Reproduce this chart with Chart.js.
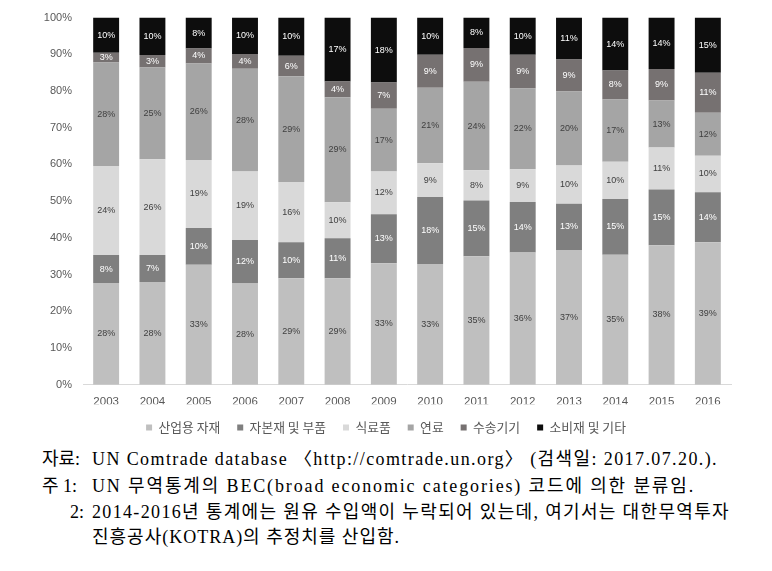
<!DOCTYPE html>
<html>
<head>
<meta charset="utf-8">
<script src="https://cdn.jsdelivr.net/npm/chart.js@4.4.0/dist/chart.umd.min.js"></script>
<style>
  body { margin: 0; background: #fff; }
  #wrap { position: absolute; left: 0; top: 0; width: 772px; height: 444px; }
  .note {
    position: absolute;
    font-family: "Liberation Serif", "Noto Sans CJK KR", serif;
    font-size: 18px; line-height: 25px; color: #000;
    white-space: nowrap;
  }
</style>
</head>
<body>
<div id="wrap"><canvas id="chart"></canvas></div>
<div class="note" style="left:42px; top:447px">자료:</div>
<div class="note body" style="left:92px; top:447px" data-right="718">UN Comtrade database 〈http://comtrade.un.org〉 (검색일: 2017.07.20.).</div>
<div class="note" style="left:42px; top:474px">주 1:</div>
<div class="note body" style="left:92px; top:474px" data-right="695">UN 무역통계의 BEC(broad economic categories) 코드에 의한 분류임.</div>
<div class="note" style="left:70px; top:500px">2:</div>
<div class="note body" style="left:92px; top:500px" data-right="730">2014-2016년 통계에는 원유 수입액이 누락되어 있는데, 여기서는 대한무역투자</div>
<div class="note body" style="left:92px; top:525px" data-right="400">진흥공사(KOTRA)의 추정치를 산입함.</div>
<script>
let years = ['2003', '2004', '2005', '2006', '2007', '2008', '2009', '2010', '2011', '2012', '2013', '2014', '2015', '2016'];

// shares in %, bottom to top
let industrial = [27.7, 28.0, 32.7, 27.6, 29.0, 29.0, 33.1, 32.9, 35.0, 36.0, 36.7, 35.4, 38.0, 38.8];
let capital    = [7.6, 7.3, 10.0, 11.8, 9.8, 10.9, 13.3, 18.2, 15.2, 13.8, 12.6, 15.2, 15.2, 13.6];
let food       = [24.3, 26.1, 18.5, 18.7, 16.4, 9.8, 11.7, 9.2, 8.2, 8.9, 10.4, 10.1, 11.4, 10.0];
let fuel       = [28.2, 25.0, 26.3, 28.0, 28.8, 28.6, 17.1, 20.6, 24.1, 22.0, 20.2, 17.0, 12.8, 11.7];
let transport  = [2.6, 3.4, 4.1, 4.0, 5.6, 4.3, 7.1, 9.0, 9.2, 9.2, 8.7, 7.9, 8.6, 10.9];
let consumer   = [9.6, 10.2, 8.4, 9.9, 10.4, 17.4, 17.7, 10.1, 8.3, 10.1, 11.4, 14.4, 14.0, 15.0];

let seriesNames = ['산업용 자재', '자본재 및 부품', '식료품', '연료', '수송기기', '소비재 및 기타'];
let yTicks = [0, 10, 20, 30, 40, 50, 60, 70, 80, 90, 100];

let series = [industrial, capital, food, fuel, transport, consumer];
let fills = ['#bfbfbf', '#7f7f7f', '#d9d9d9', '#a5a5a5', '#767171', '#0d0d0d'];
let labelColors = ['#404040', '#ffffff', '#404040', '#404040', '#ffffff', '#ffffff'];

// Stretch the note lines so they span as wide as in the source.
document.querySelectorAll('.note.body').forEach((el) => {
  let left = parseFloat(el.style.left);
  let target = parseFloat(el.dataset.right) - left;
  let natural = el.getBoundingClientRect().width;
  let n = el.textContent.length;
  el.style.letterSpacing = ((target - natural) / n).toFixed(3) + 'px';
});

let datasets = series.map((data, i) => ({
  label: seriesNames[i],
  data: data,
  backgroundColor: fills[i],
  borderWidth: 0,
  categoryPercentage: 1,
  barPercentage: 0.56
}));

// Draw the % labels in the middle of every segment.
let segmentLabels = {
  id: 'segmentLabels',
  afterDatasetsDraw(chart) {
    let ctx = chart.ctx;
    ctx.save();
    ctx.font = '9px "Liberation Sans", sans-serif';
    ctx.textAlign = 'center';
    ctx.textBaseline = 'middle';
    chart.data.datasets.forEach((ds, i) => {
      let meta = chart.getDatasetMeta(i);
      ctx.fillStyle = labelColors[i];
      meta.data.forEach((bar, j) => {
        let y = (bar.y + bar.base) / 2;
        ctx.fillText(Math.round(ds.data[j]) + '%', bar.x, y);
      });
    });
    ctx.restore();
  }
};

let ctx = document.getElementById('chart');
let chart = new Chart(ctx, {
  type: 'bar',
  data: { labels: years, datasets: datasets },
  plugins: [segmentLabels],
  options: {
    responsive: true,
    maintainAspectRatio: false,
    animation: false,
    layout: { padding: { left: 41, right: 41, top: 9, bottom: 0 } },
    plugins: {
      tooltip: { enabled: false },
      legend: {
        position: 'bottom',
        labels: {
          boxWidth: 6,
          boxHeight: 6,
          padding: 17,
          color: '#595959',
          font: { family: '"Noto Sans CJK KR", sans-serif', size: 12.8 }
        }
      }
    },
    scales: {
      x: {
        stacked: true,
        afterFit: (scale) => { scale.height = 19.5; },
        grid: { display: false, drawTicks: false },
        border: { display: true, color: '#d9d9d9', width: 1 },
        ticks: {
          padding: 10,
          color: '#595959',
          font: { family: '"Liberation Sans", sans-serif', size: 11.5 }
        }
      },
      y: {
        stacked: true,
        min: 0,
        max: 100,
        afterFit: (scale) => { scale.width = 42; },
        afterBuildTicks: (scale) => { scale.ticks = yTicks.map(v => ({ value: v })); },
        grid: { display: false, drawTicks: false },
        border: { display: false },
        ticks: {
          padding: 11,
          color: '#595959',
          font: { family: '"Liberation Sans", sans-serif', size: 11 },
          callback: (v) => v + '%'
        }
      }
    }
  }
});
</script>
</body>
</html>
